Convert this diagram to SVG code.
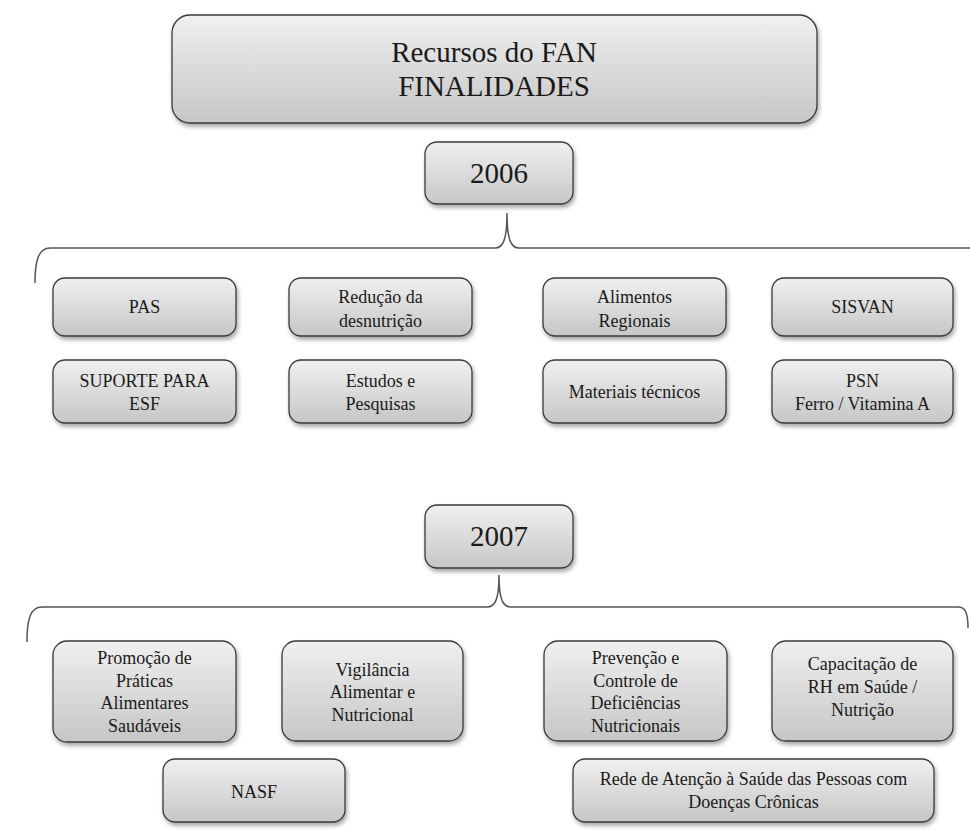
<svg xmlns="http://www.w3.org/2000/svg" width="970" height="830" viewBox="0 0 970 830">
<defs>
<linearGradient id="g" x1="0" y1="0" x2="0" y2="1">
<stop offset="0" stop-color="#f0f0f0"/>
<stop offset="1" stop-color="#c6c6c6"/>
</linearGradient>
<filter id="sh" x="-10%" y="-10%" width="120%" height="130%">
<feDropShadow dx="1.5" dy="3" stdDeviation="2" flood-color="#000" flood-opacity="0.35"/>
</filter>
</defs>
<style>
.b{fill:url(#g);stroke:#3a3a3a;stroke-width:1.3;filter:url(#sh)}
.c{fill:none;stroke:#555;stroke-width:1.5}
text{font-family:'Liberation Serif','Times New Roman',serif;fill:#1a1a1a;text-anchor:middle}
.t{font-size:29px}
.s{font-size:18px}
</style>
<rect width="970" height="830" fill="#fff"/>
<g id="connectors">
<path class="c" d="M35,283 C35,262 38,248 50,248 L495,248 C503,248 507,240 507,213 C507,240 511,248 519,248 L970,248"/>
<path class="c" d="M27,642 C27,620 30,607 42,607 L487,607 C495,607 499,600 499,575 C499,600 503,607 511,607 L958,607 C965,607 968,612 968,628"/>
</g>
<g id="title"><rect class="b" x="172" y="15" width="645" height="108" rx="18"/>
<text class="t" x="494" y="62">Recursos do FAN</text><text class="t" x="494" y="96">FINALIDADES</text></g>
<g id="y2006"><rect class="b" x="425" y="142" width="148" height="62" rx="12"/><text class="t" x="499" y="183">2006</text></g>
<g id="pas"><rect class="b" x="53" y="278" width="183" height="58" rx="12"/><text class="s" x="144.5" y="313">PAS</text></g>
<g id="reducao"><rect class="b" x="289" y="278" width="183" height="58" rx="12"/><text class="s" x="380.5" y="303">Redução da</text><text class="s" x="380.5" y="327">desnutrição</text></g>
<g id="alimentos"><rect class="b" x="543" y="278" width="183" height="58" rx="12"/><text class="s" x="634.5" y="303">Alimentos</text><text class="s" x="634.5" y="327">Regionais</text></g>
<g id="sisvan"><rect class="b" x="772" y="278" width="181" height="58" rx="12"/><text class="s" x="862.5" y="313">SISVAN</text></g>
<g id="suporte"><rect class="b" x="53" y="360" width="183" height="63" rx="12"/><text class="s" x="144.5" y="387">SUPORTE PARA</text><text class="s" x="144.5" y="410">ESF</text></g>
<g id="estudos"><rect class="b" x="289" y="360" width="183" height="63" rx="12"/><text class="s" x="380.5" y="387">Estudos e</text><text class="s" x="380.5" y="410">Pesquisas</text></g>
<g id="materiais"><rect class="b" x="543" y="360" width="183" height="63" rx="12"/><text class="s" x="634.5" y="398">Materiais técnicos</text></g>
<g id="psn"><rect class="b" x="772" y="360" width="181" height="63" rx="12"/><text class="s" x="862.5" y="387">PSN</text><text class="s" x="862.5" y="410">Ferro / Vitamina A</text></g>
<g id="y2007"><rect class="b" x="425" y="505" width="148" height="63" rx="12"/><text class="t" x="499" y="546">2007</text></g>
<g id="promocao"><rect class="b" x="53" y="641" width="183" height="101" rx="14"/><text class="s" x="144.5" y="664">Promoção de</text><text class="s" x="144.5" y="687">Práticas</text><text class="s" x="144.5" y="709">Alimentares</text><text class="s" x="144.5" y="732">Saudáveis</text></g>
<g id="vigilancia"><rect class="b" x="282" y="641" width="181" height="100" rx="14"/><text class="s" x="372.5" y="676">Vigilância</text><text class="s" x="372.5" y="698">Alimentar e</text><text class="s" x="372.5" y="721">Nutricional</text></g>
<g id="prevencao"><rect class="b" x="544" y="641" width="183" height="100" rx="14"/><text class="s" x="635.5" y="664">Prevenção e</text><text class="s" x="635.5" y="687">Controle de</text><text class="s" x="635.5" y="709">Deficiências</text><text class="s" x="635.5" y="732">Nutricionais</text></g>
<g id="capacitacao"><rect class="b" x="772" y="641" width="181" height="100" rx="14"/><text class="s" x="862.5" y="670">Capacitação de</text><text class="s" x="862.5" y="693">RH em Saúde /</text><text class="s" x="862.5" y="716">Nutrição</text></g>
<g id="nasf"><rect class="b" x="163" y="759" width="182" height="63" rx="12"/><text class="s" x="254" y="798">NASF</text></g>
<g id="rede"><rect class="b" x="573" y="759" width="361" height="63" rx="12"/><text class="s" x="753.5" y="785">Rede de Atenção à Saúde das Pessoas com</text><text class="s" x="753.5" y="808">Doenças Crônicas</text></g>
</svg>
